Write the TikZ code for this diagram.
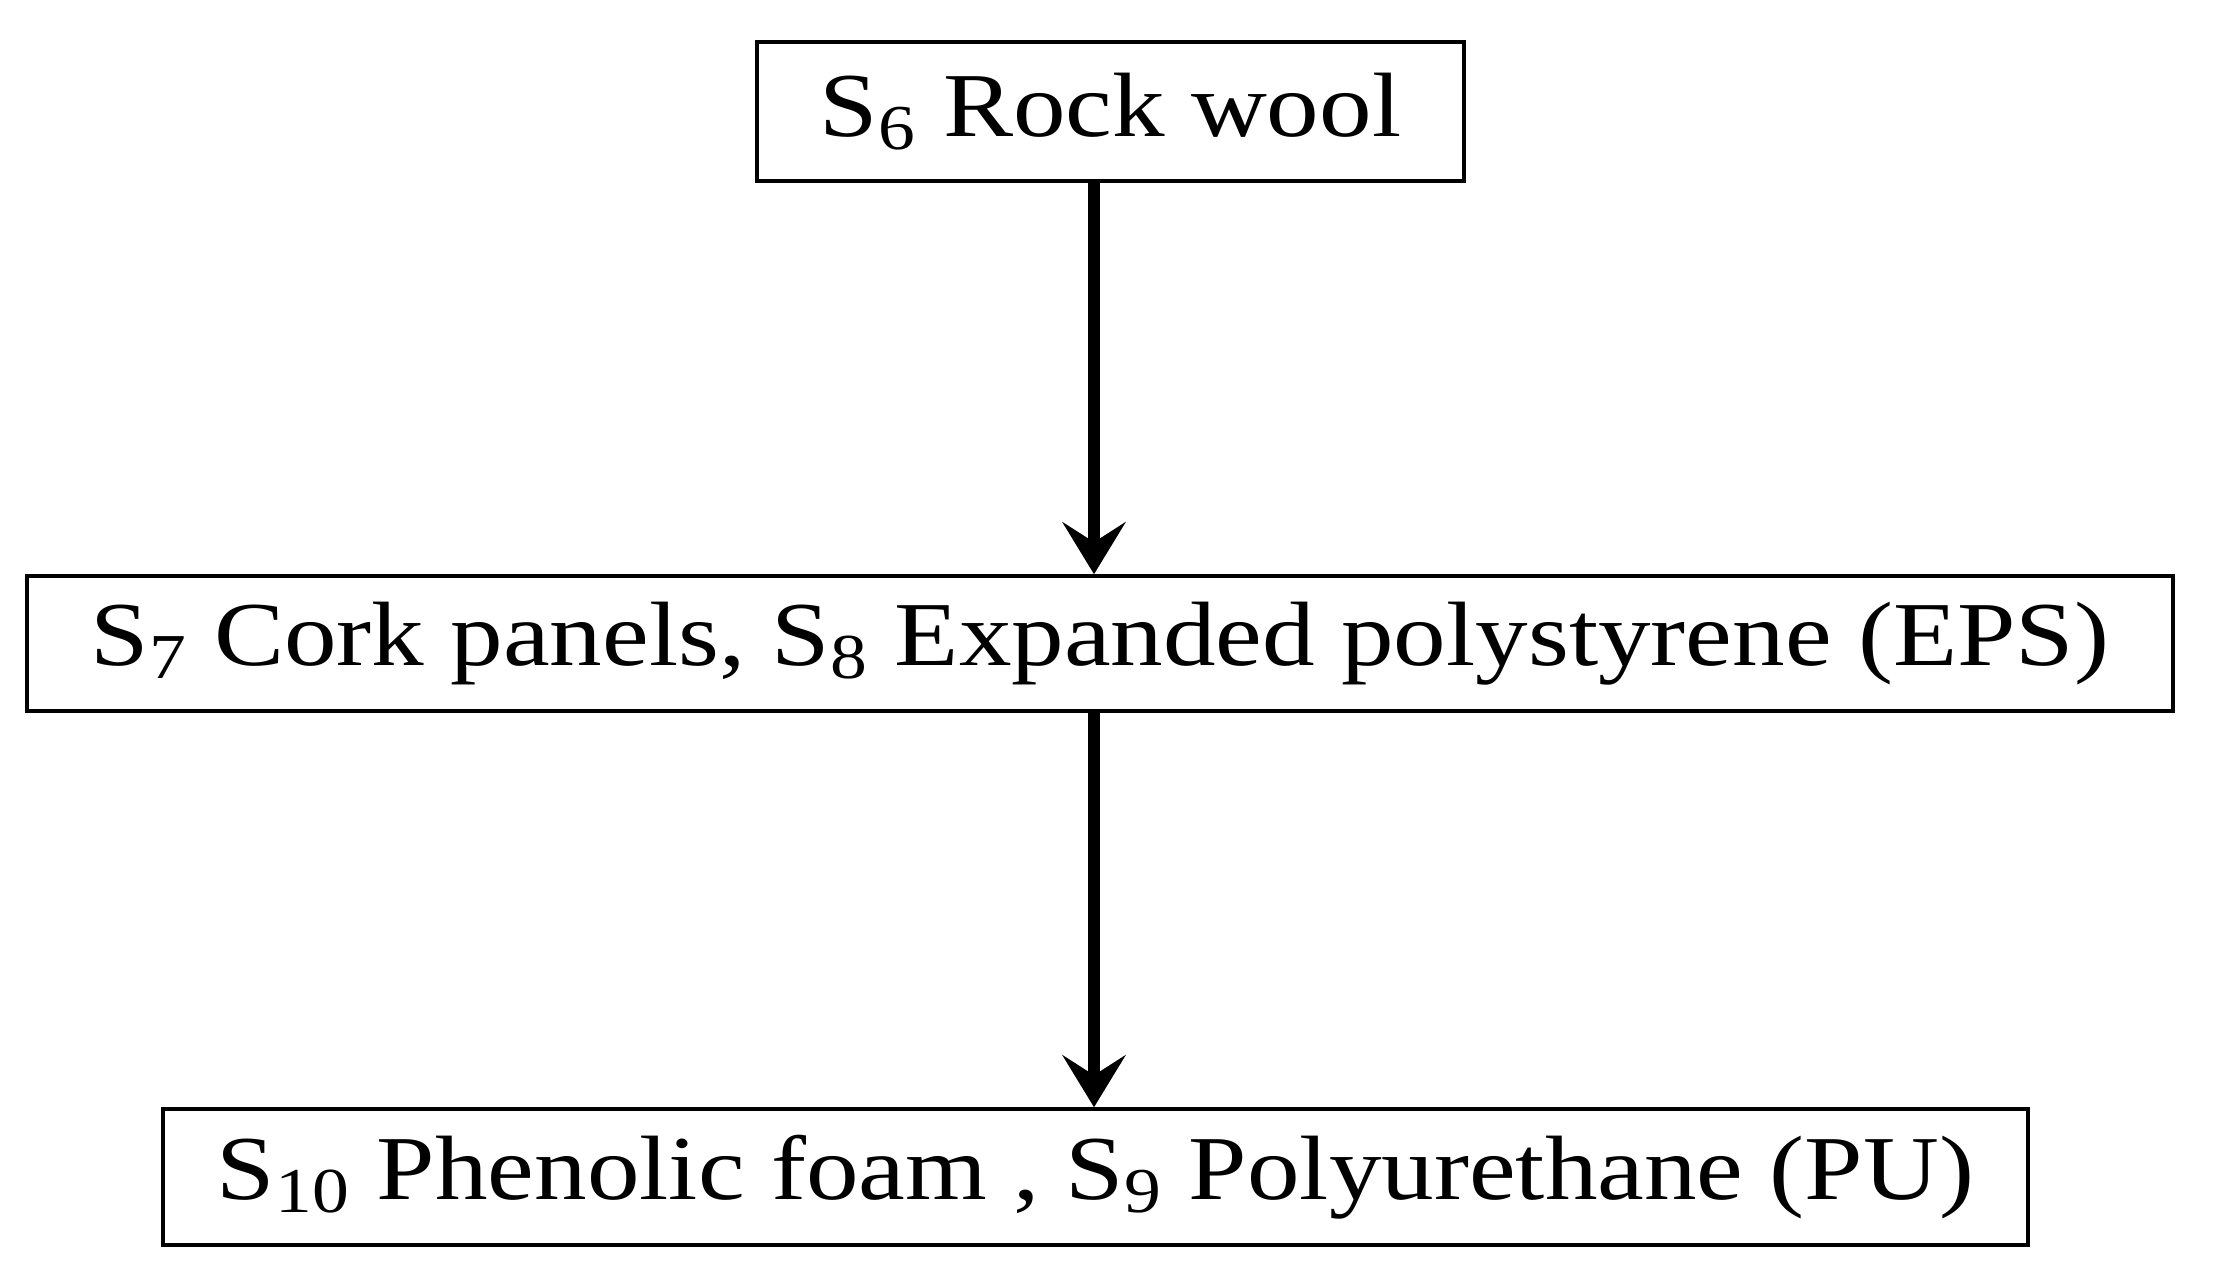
\documentclass[tikz,border=0pt]{standalone}
\usepackage{fontspec}
\setmainfont[FakeStretch=1.15]{Liberation Serif}
\usetikzlibrary{arrows.meta}
\begin{document}
\begin{tikzpicture}[
    box/.style={draw, line width=1pt, inner sep=0pt, font=\fontsize{26}{31}\selectfont},
    flow/.style={line width=3.6pt, -{Stealth[length=5.2mm, width=6.3mm, inset=2mm]}}]
  \useasboundingbox (0,0) rectangle (22.18,12.83);
  \draw
    (11.105,11.715) node[box, minimum width=7.07cm, minimum height=1.39cm] (s6){S\textsubscript{6} Rock wool}
    (11.00,6.395) node[box, minimum width=21.46cm, minimum height=1.35cm] (s78){S\textsubscript{7} Cork panels, S\textsubscript{8} Expanded polystyrene (EPS)}
    (10.955,1.06) node[box, minimum width=18.65cm, minimum height=1.36cm] (s109){S\textsubscript{10} Phenolic foam , S\textsubscript{9} Polyurethane (PU)};
  \coordinate (axis) at (10.94,0);
  \begin{scope}[flow]
    \draw (s6.south -| axis) to (s78.north -| axis);
    \draw (s78.south -| axis) to (s109.north -| axis);
  \end{scope}
\end{tikzpicture}
\end{document}
